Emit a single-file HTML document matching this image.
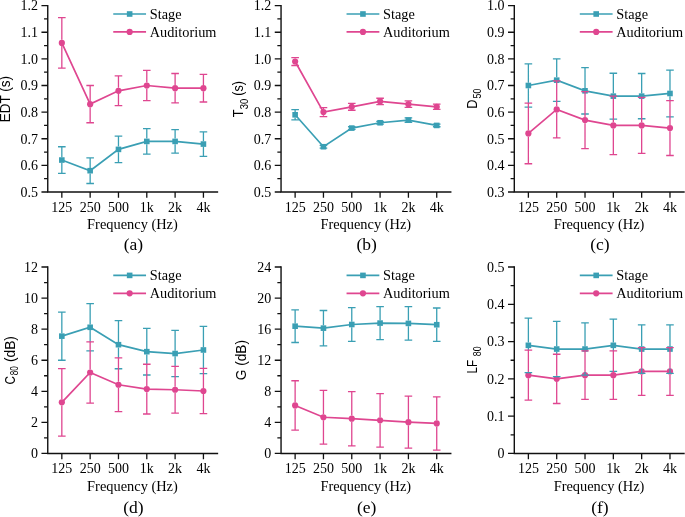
<!DOCTYPE html>
<html><head><meta charset="utf-8"><style>
html,body{margin:0;padding:0;background:#fff;width:685px;height:517px;overflow:hidden}
svg{display:block;will-change:transform}
</style></head><body>
<svg width="685" height="517" viewBox="0 0 685 517">
<g><path d="M47.75 4.9V192H218.15" fill="none" stroke="#111" stroke-width="1.4"/><path d="M41.45 192H47.75M44.05 178.69H47.75M41.45 165.37H47.75M44.05 152.06H47.75M41.45 138.74H47.75M44.05 125.43H47.75M41.45 112.11H47.75M44.05 98.8H47.75M41.45 85.49H47.75M44.05 72.17H47.75M41.45 58.86H47.75M44.05 45.54H47.75M41.45 32.23H47.75M44.05 18.91H47.75M41.45 5.6H47.75M61.83 192V197.8M90.15 192V197.8M118.47 192V197.8M146.79 192V197.8M175.11 192V197.8M203.43 192V197.8" fill="none" stroke="#111" stroke-width="1.3"/><text x="38.05" y="196.8" text-anchor="end" font-family="'Liberation Serif', serif" font-size="14">0.5</text><text x="38.05" y="170.17" text-anchor="end" font-family="'Liberation Serif', serif" font-size="14">0.6</text><text x="38.05" y="143.54" text-anchor="end" font-family="'Liberation Serif', serif" font-size="14">0.7</text><text x="38.05" y="116.91" text-anchor="end" font-family="'Liberation Serif', serif" font-size="14">0.8</text><text x="38.05" y="90.29" text-anchor="end" font-family="'Liberation Serif', serif" font-size="14">0.9</text><text x="38.05" y="63.66" text-anchor="end" font-family="'Liberation Serif', serif" font-size="14">1.0</text><text x="38.05" y="37.03" text-anchor="end" font-family="'Liberation Serif', serif" font-size="14">1.1</text><text x="38.05" y="10.4" text-anchor="end" font-family="'Liberation Serif', serif" font-size="14">1.2</text><text x="61.83" y="211.5" text-anchor="middle" font-family="'Liberation Serif', serif" font-size="14">125</text><text x="90.15" y="211.5" text-anchor="middle" font-family="'Liberation Serif', serif" font-size="14">250</text><text x="118.47" y="211.5" text-anchor="middle" font-family="'Liberation Serif', serif" font-size="14">500</text><text x="146.79" y="211.5" text-anchor="middle" font-family="'Liberation Serif', serif" font-size="14">1k</text><text x="175.11" y="211.5" text-anchor="middle" font-family="'Liberation Serif', serif" font-size="14">2k</text><text x="203.43" y="211.5" text-anchor="middle" font-family="'Liberation Serif', serif" font-size="14">4k</text><text x="132.45" y="229.1" text-anchor="middle" font-family="'Liberation Serif', serif" font-size="14.4">Frequency (Hz)</text><text x="133.35" y="249.6" text-anchor="middle" font-family="'Liberation Serif', serif" font-size="17.5">(a)</text><text transform="translate(10.1 122.3) rotate(-90) scale(0.964 1)" font-family="'Liberation Sans', sans-serif" font-size="14">EDT (s)</text><polyline points="61.83,160.05 90.15,170.7 118.47,149.39 146.79,141.41 175.11,141.41 203.43,144.07" fill="none" stroke="#3A9FB4" stroke-width="1.7"/><rect x="59.03" y="157.25" width="5.6" height="5.6" fill="#3A9FB4"/><rect x="87.35" y="167.9" width="5.6" height="5.6" fill="#3A9FB4"/><rect x="115.67" y="146.59" width="5.6" height="5.6" fill="#3A9FB4"/><rect x="143.99" y="138.61" width="5.6" height="5.6" fill="#3A9FB4"/><rect x="172.31" y="138.61" width="5.6" height="5.6" fill="#3A9FB4"/><rect x="200.63" y="141.27" width="5.6" height="5.6" fill="#3A9FB4"/><polyline points="61.83,42.88 90.15,104.13 118.47,90.81 146.79,85.49 175.11,88.15 203.43,88.15" fill="none" stroke="#DF4690" stroke-width="1.7"/><circle cx="61.83" cy="42.88" r="3.1" fill="#DF4690"/><circle cx="90.15" cy="104.13" r="3.1" fill="#DF4690"/><circle cx="118.47" cy="90.81" r="3.1" fill="#DF4690"/><circle cx="146.79" cy="85.49" r="3.1" fill="#DF4690"/><circle cx="175.11" cy="88.15" r="3.1" fill="#DF4690"/><circle cx="203.43" cy="88.15" r="3.1" fill="#DF4690"/><path d="M61.83 146.73V157.25M61.83 162.85V173.36M58.03 146.73H65.63M58.03 173.36H65.63M90.15 157.92V167.9M90.15 173.5V183.48M86.35 157.92H93.95M86.35 183.48H93.95M118.47 136.08V146.59M118.47 152.19V162.71M114.67 136.08H122.27M114.67 162.71H122.27M146.79 128.62V138.61M146.79 144.21V154.19M142.99 128.62H150.59M142.99 154.19H150.59M175.11 129.69V138.61M175.11 144.21V153.12M171.31 129.69H178.91M171.31 153.12H178.91M203.43 131.82V141.27M203.43 146.87V156.32M199.63 131.82H207.23M199.63 156.32H207.23" fill="none" stroke="#3A9FB4" stroke-width="1.3"/><path d="M61.83 17.58V39.78M61.83 45.98V68.18M58.03 17.58H65.63M58.03 68.18H65.63M90.15 85.49V101.03M90.15 107.23V122.77M86.35 85.49H93.95M86.35 122.77H93.95M118.47 75.9V87.71M118.47 93.91V105.72M114.67 75.9H122.27M114.67 105.72H122.27M146.79 70.31V82.39M146.79 88.59V100.66M142.99 70.31H150.59M142.99 100.66H150.59M175.11 73.5V85.05M175.11 91.25V102.79M171.31 73.5H178.91M171.31 102.79H178.91M203.43 74.3V85.05M203.43 91.25V102M199.63 74.3H207.23M199.63 102H207.23" fill="none" stroke="#DF4690" stroke-width="1.3"/><path d="M113.25 14H146.05" stroke="#3A9FB4" stroke-width="1.7"/><rect x="126.85" y="11.2" width="5.6" height="5.6" fill="#3A9FB4"/><path d="M113.25 31.9H146.05" stroke="#DF4690" stroke-width="1.7"/><circle cx="129.65" cy="31.9" r="3.1" fill="#DF4690"/><text x="149.75" y="18.6" font-family="'Liberation Serif', serif" font-size="14.3">Stage</text><text x="149.75" y="36.5" font-family="'Liberation Serif', serif" font-size="14.3">Auditorium</text></g>
<g><path d="M281.05 4.9V192H451.45" fill="none" stroke="#111" stroke-width="1.4"/><path d="M274.75 192H281.05M277.35 178.69H281.05M274.75 165.37H281.05M277.35 152.06H281.05M274.75 138.74H281.05M277.35 125.43H281.05M274.75 112.11H281.05M277.35 98.8H281.05M274.75 85.49H281.05M277.35 72.17H281.05M274.75 58.86H281.05M277.35 45.54H281.05M274.75 32.23H281.05M277.35 18.91H281.05M274.75 5.6H281.05M295.13 192V197.8M323.45 192V197.8M351.77 192V197.8M380.09 192V197.8M408.41 192V197.8M436.73 192V197.8" fill="none" stroke="#111" stroke-width="1.3"/><text x="271.35" y="196.8" text-anchor="end" font-family="'Liberation Serif', serif" font-size="14">0.5</text><text x="271.35" y="170.17" text-anchor="end" font-family="'Liberation Serif', serif" font-size="14">0.6</text><text x="271.35" y="143.54" text-anchor="end" font-family="'Liberation Serif', serif" font-size="14">0.7</text><text x="271.35" y="116.91" text-anchor="end" font-family="'Liberation Serif', serif" font-size="14">0.8</text><text x="271.35" y="90.29" text-anchor="end" font-family="'Liberation Serif', serif" font-size="14">0.9</text><text x="271.35" y="63.66" text-anchor="end" font-family="'Liberation Serif', serif" font-size="14">1.0</text><text x="271.35" y="37.03" text-anchor="end" font-family="'Liberation Serif', serif" font-size="14">1.1</text><text x="271.35" y="10.4" text-anchor="end" font-family="'Liberation Serif', serif" font-size="14">1.2</text><text x="295.13" y="211.5" text-anchor="middle" font-family="'Liberation Serif', serif" font-size="14">125</text><text x="323.45" y="211.5" text-anchor="middle" font-family="'Liberation Serif', serif" font-size="14">250</text><text x="351.77" y="211.5" text-anchor="middle" font-family="'Liberation Serif', serif" font-size="14">500</text><text x="380.09" y="211.5" text-anchor="middle" font-family="'Liberation Serif', serif" font-size="14">1k</text><text x="408.41" y="211.5" text-anchor="middle" font-family="'Liberation Serif', serif" font-size="14">2k</text><text x="436.73" y="211.5" text-anchor="middle" font-family="'Liberation Serif', serif" font-size="14">4k</text><text x="365.75" y="229.1" text-anchor="middle" font-family="'Liberation Serif', serif" font-size="14.4">Frequency (Hz)</text><text x="366.65" y="249.6" text-anchor="middle" font-family="'Liberation Serif', serif" font-size="17.5">(b)</text><text transform="translate(243 117.2) rotate(-90) scale(0.91 1)" font-family="'Liberation Sans', sans-serif" font-size="14">T</text><text transform="translate(247.8 109.3) rotate(-90) scale(0.946 1)" font-family="'Liberation Sans', sans-serif" font-size="10">30</text><text transform="translate(243 95.7) rotate(-90) scale(0.9 1)" font-family="'Liberation Sans', sans-serif" font-size="14">(s)</text><polyline points="295.13,114.78 323.45,146.73 351.77,128.09 380.09,122.77 408.41,120.1 436.73,125.43" fill="none" stroke="#3A9FB4" stroke-width="1.7"/><rect x="292.33" y="111.98" width="5.6" height="5.6" fill="#3A9FB4"/><rect x="320.65" y="143.93" width="5.6" height="5.6" fill="#3A9FB4"/><rect x="348.97" y="125.29" width="5.6" height="5.6" fill="#3A9FB4"/><rect x="377.29" y="119.97" width="5.6" height="5.6" fill="#3A9FB4"/><rect x="405.61" y="117.3" width="5.6" height="5.6" fill="#3A9FB4"/><rect x="433.93" y="122.63" width="5.6" height="5.6" fill="#3A9FB4"/><polyline points="295.13,61.52 323.45,112.11 351.77,106.79 380.09,101.46 408.41,104.13 436.73,106.79" fill="none" stroke="#DF4690" stroke-width="1.7"/><circle cx="295.13" cy="61.52" r="3.1" fill="#DF4690"/><circle cx="323.45" cy="112.11" r="3.1" fill="#DF4690"/><circle cx="351.77" cy="106.79" r="3.1" fill="#DF4690"/><circle cx="380.09" cy="101.46" r="3.1" fill="#DF4690"/><circle cx="408.41" cy="104.13" r="3.1" fill="#DF4690"/><circle cx="436.73" cy="106.79" r="3.1" fill="#DF4690"/><path d="M295.13 109.72V111.98M295.13 117.58V119.84M291.33 109.72H298.93M291.33 119.84H298.93M319.65 145.4H327.25M319.65 148.06H327.25M347.97 126.76H355.57M347.97 129.42H355.57M376.29 121.43H383.89M376.29 124.1H383.89M404.61 117.97H412.21M404.61 122.23H412.21M432.93 124.1H440.53M432.93 126.76H440.53" fill="none" stroke="#3A9FB4" stroke-width="1.3"/><path d="M295.13 57.53V58.42M295.13 64.62V65.51M291.33 57.53H298.93M291.33 65.51H298.93M323.45 107.59V109.01M323.45 115.21V116.64M319.65 107.59H327.25M319.65 116.64H327.25M351.77 103.33V103.69M351.77 109.89V110.25M347.97 103.33H355.57M347.97 110.25H355.57M380.09 98.27V98.36M380.09 104.56V104.66M376.29 98.27H383.89M376.29 104.66H383.89M408.41 100.93V101.03M408.41 107.23V107.32M404.61 100.93H412.21M404.61 107.32H412.21M432.93 104.13H440.53M432.93 109.45H440.53" fill="none" stroke="#DF4690" stroke-width="1.3"/><path d="M346.55 14H379.35" stroke="#3A9FB4" stroke-width="1.7"/><rect x="360.15" y="11.2" width="5.6" height="5.6" fill="#3A9FB4"/><path d="M346.55 31.9H379.35" stroke="#DF4690" stroke-width="1.7"/><circle cx="362.95" cy="31.9" r="3.1" fill="#DF4690"/><text x="383.05" y="18.6" font-family="'Liberation Serif', serif" font-size="14.3">Stage</text><text x="383.05" y="36.5" font-family="'Liberation Serif', serif" font-size="14.3">Auditorium</text></g>
<g><path d="M514.3 4.9V192H684.7" fill="none" stroke="#111" stroke-width="1.4"/><path d="M508 192H514.3M510.6 178.69H514.3M508 165.37H514.3M510.6 152.06H514.3M508 138.74H514.3M510.6 125.43H514.3M508 112.11H514.3M510.6 98.8H514.3M508 85.49H514.3M510.6 72.17H514.3M508 58.86H514.3M510.6 45.54H514.3M508 32.23H514.3M510.6 18.91H514.3M508 5.6H514.3M528.38 192V197.8M556.7 192V197.8M585.02 192V197.8M613.34 192V197.8M641.66 192V197.8M669.98 192V197.8" fill="none" stroke="#111" stroke-width="1.3"/><text x="504.6" y="196.8" text-anchor="end" font-family="'Liberation Serif', serif" font-size="14">0.3</text><text x="504.6" y="170.17" text-anchor="end" font-family="'Liberation Serif', serif" font-size="14">0.4</text><text x="504.6" y="143.54" text-anchor="end" font-family="'Liberation Serif', serif" font-size="14">0.5</text><text x="504.6" y="116.91" text-anchor="end" font-family="'Liberation Serif', serif" font-size="14">0.6</text><text x="504.6" y="90.29" text-anchor="end" font-family="'Liberation Serif', serif" font-size="14">0.7</text><text x="504.6" y="63.66" text-anchor="end" font-family="'Liberation Serif', serif" font-size="14">0.8</text><text x="504.6" y="37.03" text-anchor="end" font-family="'Liberation Serif', serif" font-size="14">0.9</text><text x="504.6" y="10.4" text-anchor="end" font-family="'Liberation Serif', serif" font-size="14">1.0</text><text x="528.38" y="211.5" text-anchor="middle" font-family="'Liberation Serif', serif" font-size="14">125</text><text x="556.7" y="211.5" text-anchor="middle" font-family="'Liberation Serif', serif" font-size="14">250</text><text x="585.02" y="211.5" text-anchor="middle" font-family="'Liberation Serif', serif" font-size="14">500</text><text x="613.34" y="211.5" text-anchor="middle" font-family="'Liberation Serif', serif" font-size="14">1k</text><text x="641.66" y="211.5" text-anchor="middle" font-family="'Liberation Serif', serif" font-size="14">2k</text><text x="669.98" y="211.5" text-anchor="middle" font-family="'Liberation Serif', serif" font-size="14">4k</text><text x="599" y="229.1" text-anchor="middle" font-family="'Liberation Serif', serif" font-size="14.4">Frequency (Hz)</text><text x="599.9" y="249.6" text-anchor="middle" font-family="'Liberation Serif', serif" font-size="17.5">(c)</text><text transform="translate(476.75 108.8) rotate(-90) scale(0.91 1)" font-family="'Liberation Sans', sans-serif" font-size="14">D</text><text transform="translate(480.9 98.5) rotate(-90) scale(0.88 1)" font-family="'Liberation Sans', sans-serif" font-size="10">50</text><polyline points="528.38,85.49 556.7,80.16 585.02,90.81 613.34,96.14 641.66,96.14 669.98,93.47" fill="none" stroke="#3A9FB4" stroke-width="1.7"/><rect x="525.58" y="82.69" width="5.6" height="5.6" fill="#3A9FB4"/><rect x="553.9" y="77.36" width="5.6" height="5.6" fill="#3A9FB4"/><rect x="582.22" y="88.01" width="5.6" height="5.6" fill="#3A9FB4"/><rect x="610.54" y="93.34" width="5.6" height="5.6" fill="#3A9FB4"/><rect x="638.86" y="93.34" width="5.6" height="5.6" fill="#3A9FB4"/><rect x="667.18" y="90.67" width="5.6" height="5.6" fill="#3A9FB4"/><polyline points="528.38,133.42 556.7,109.45 585.02,120.1 613.34,125.43 641.66,125.43 669.98,128.09" fill="none" stroke="#DF4690" stroke-width="1.7"/><circle cx="528.38" cy="133.42" r="3.1" fill="#DF4690"/><circle cx="556.7" cy="109.45" r="3.1" fill="#DF4690"/><circle cx="585.02" cy="120.1" r="3.1" fill="#DF4690"/><circle cx="613.34" cy="125.43" r="3.1" fill="#DF4690"/><circle cx="641.66" cy="125.43" r="3.1" fill="#DF4690"/><circle cx="669.98" cy="128.09" r="3.1" fill="#DF4690"/><path d="M528.38 63.92V82.69M528.38 88.29V103.06M524.58 63.92H532.18M524.58 107.05H532.18M556.7 58.86V77.36M552.9 58.86H560.5M552.9 101.46H560.5M585.02 67.64V88.01M581.22 67.64H588.82M581.22 113.98H588.82M613.34 73.24V93.34M609.54 73.24H617.14M609.54 119.04H617.14M641.66 73.5V93.34M637.86 73.5H645.46M637.86 118.77H645.46M669.98 70.04V90.67M669.98 96.27V100.66M666.18 70.04H673.78M666.18 116.91H673.78" fill="none" stroke="#3A9FB4" stroke-width="1.3"/><path d="M528.38 103.06V130.32M528.38 136.52V163.77M524.58 103.06H532.18M524.58 163.77H532.18M556.7 80.96V106.35M556.7 112.55V137.94M552.9 80.96H560.5M552.9 137.94H560.5M585.02 91.61V117M585.02 123.2V148.6M581.22 91.61H588.82M581.22 148.6H588.82M613.34 96.14V122.33M613.34 128.53V154.72M609.54 96.14H617.14M609.54 154.72H617.14M641.66 97.47V122.33M641.66 128.53V153.39M637.86 97.47H645.46M637.86 153.39H645.46M669.98 100.66V124.99M669.98 131.19V155.52M666.18 100.66H673.78M666.18 155.52H673.78" fill="none" stroke="#DF4690" stroke-width="1.3"/><path d="M579.8 14H612.6" stroke="#3A9FB4" stroke-width="1.7"/><rect x="593.4" y="11.2" width="5.6" height="5.6" fill="#3A9FB4"/><path d="M579.8 31.9H612.6" stroke="#DF4690" stroke-width="1.7"/><circle cx="596.2" cy="31.9" r="3.1" fill="#DF4690"/><text x="616.3" y="18.6" font-family="'Liberation Serif', serif" font-size="14.3">Stage</text><text x="616.3" y="36.5" font-family="'Liberation Serif', serif" font-size="14.3">Auditorium</text></g>
<g><path d="M47.75 266.3V453.45H218.15" fill="none" stroke="#111" stroke-width="1.4"/><path d="M41.45 453.45H47.75M44.05 437.91H47.75M41.45 422.38H47.75M44.05 406.84H47.75M41.45 391.3H47.75M44.05 375.76H47.75M41.45 360.23H47.75M44.05 344.69H47.75M41.45 329.15H47.75M44.05 313.61H47.75M41.45 298.07H47.75M44.05 282.54H47.75M41.45 267H47.75M61.83 453.45V459.25M90.15 453.45V459.25M118.47 453.45V459.25M146.79 453.45V459.25M175.11 453.45V459.25M203.43 453.45V459.25" fill="none" stroke="#111" stroke-width="1.3"/><text x="38.05" y="458.25" text-anchor="end" font-family="'Liberation Serif', serif" font-size="14">0</text><text x="38.05" y="427.18" text-anchor="end" font-family="'Liberation Serif', serif" font-size="14">2</text><text x="38.05" y="396.1" text-anchor="end" font-family="'Liberation Serif', serif" font-size="14">4</text><text x="38.05" y="365.03" text-anchor="end" font-family="'Liberation Serif', serif" font-size="14">6</text><text x="38.05" y="333.95" text-anchor="end" font-family="'Liberation Serif', serif" font-size="14">8</text><text x="38.05" y="302.88" text-anchor="end" font-family="'Liberation Serif', serif" font-size="14">10</text><text x="38.05" y="271.8" text-anchor="end" font-family="'Liberation Serif', serif" font-size="14">12</text><text x="61.83" y="472.95" text-anchor="middle" font-family="'Liberation Serif', serif" font-size="14">125</text><text x="90.15" y="472.95" text-anchor="middle" font-family="'Liberation Serif', serif" font-size="14">250</text><text x="118.47" y="472.95" text-anchor="middle" font-family="'Liberation Serif', serif" font-size="14">500</text><text x="146.79" y="472.95" text-anchor="middle" font-family="'Liberation Serif', serif" font-size="14">1k</text><text x="175.11" y="472.95" text-anchor="middle" font-family="'Liberation Serif', serif" font-size="14">2k</text><text x="203.43" y="472.95" text-anchor="middle" font-family="'Liberation Serif', serif" font-size="14">4k</text><text x="132.45" y="490.55" text-anchor="middle" font-family="'Liberation Serif', serif" font-size="14.4">Frequency (Hz)</text><text x="133.35" y="512.85" text-anchor="middle" font-family="'Liberation Serif', serif" font-size="17.5">(d)</text><text transform="translate(14.7 384.4) rotate(-90) scale(0.834 1)" font-family="'Liberation Sans', sans-serif" font-size="14">C</text><text transform="translate(17.8 375.3) rotate(-90) scale(0.83 1)" font-family="'Liberation Sans', sans-serif" font-size="10">80</text><text transform="translate(14.7 362) rotate(-90) scale(0.98 1)" font-family="'Liberation Sans', sans-serif" font-size="14">(dB)</text><polyline points="61.83,336.14 90.15,327.29 118.47,344.69 146.79,351.68 175.11,353.54 203.43,349.97" fill="none" stroke="#3A9FB4" stroke-width="1.7"/><rect x="59.03" y="333.34" width="5.6" height="5.6" fill="#3A9FB4"/><rect x="87.35" y="324.49" width="5.6" height="5.6" fill="#3A9FB4"/><rect x="115.67" y="341.89" width="5.6" height="5.6" fill="#3A9FB4"/><rect x="143.99" y="348.88" width="5.6" height="5.6" fill="#3A9FB4"/><rect x="172.31" y="350.74" width="5.6" height="5.6" fill="#3A9FB4"/><rect x="200.63" y="347.17" width="5.6" height="5.6" fill="#3A9FB4"/><polyline points="61.83,402.33 90.15,372.5 118.47,384.77 146.79,389.12 175.11,389.75 203.43,390.99" fill="none" stroke="#DF4690" stroke-width="1.7"/><circle cx="61.83" cy="402.33" r="3.1" fill="#DF4690"/><circle cx="90.15" cy="372.5" r="3.1" fill="#DF4690"/><circle cx="118.47" cy="384.77" r="3.1" fill="#DF4690"/><circle cx="146.79" cy="389.12" r="3.1" fill="#DF4690"/><circle cx="175.11" cy="389.75" r="3.1" fill="#DF4690"/><circle cx="203.43" cy="390.99" r="3.1" fill="#DF4690"/><path d="M61.83 312.06V333.34M61.83 338.94V360.23M58.03 312.06H65.63M58.03 360.23H65.63M90.15 303.67V324.49M90.15 330.09V341.89M86.35 303.67H93.95M86.35 350.9H93.95M118.47 320.6V341.89M118.47 347.49V357.89M114.67 320.6H122.27M114.67 368.77H122.27M146.79 328.37V348.88M146.79 354.48V364.26M142.99 328.37H150.59M142.99 374.99H150.59M175.11 330.39V350.74M175.11 356.34V366.44M171.31 330.39H178.91M171.31 376.69H178.91M203.43 326.35V347.17M203.43 352.77V368.3M199.63 326.35H207.23M199.63 373.59H207.23" fill="none" stroke="#3A9FB4" stroke-width="1.3"/><path d="M61.83 368.62V399.23M61.83 405.43V436.05M58.03 368.62H65.63M58.03 436.05H65.63M90.15 341.89V369.4M90.15 375.6V403.11M86.35 341.89H93.95M86.35 403.11H93.95M118.47 357.89V381.67M118.47 387.87V411.65M114.67 357.89H122.27M114.67 411.65H122.27M146.79 364.26V386.02M146.79 392.22V413.98M142.99 364.26H150.59M142.99 413.98H150.59M175.11 366.44V386.65M175.11 392.85V413.05M171.31 366.44H178.91M171.31 413.05H178.91M203.43 368.3V387.89M203.43 394.09V413.67M199.63 368.3H207.23M199.63 413.67H207.23" fill="none" stroke="#DF4690" stroke-width="1.3"/><path d="M113.25 275.4H146.05" stroke="#3A9FB4" stroke-width="1.7"/><rect x="126.85" y="272.6" width="5.6" height="5.6" fill="#3A9FB4"/><path d="M113.25 293.3H146.05" stroke="#DF4690" stroke-width="1.7"/><circle cx="129.65" cy="293.3" r="3.1" fill="#DF4690"/><text x="149.75" y="280" font-family="'Liberation Serif', serif" font-size="14.3">Stage</text><text x="149.75" y="297.9" font-family="'Liberation Serif', serif" font-size="14.3">Auditorium</text></g>
<g><path d="M281.05 266.3V453.45H451.45" fill="none" stroke="#111" stroke-width="1.4"/><path d="M274.75 453.45H281.05M277.35 437.91H281.05M274.75 422.38H281.05M277.35 406.84H281.05M274.75 391.3H281.05M277.35 375.76H281.05M274.75 360.23H281.05M277.35 344.69H281.05M274.75 329.15H281.05M277.35 313.61H281.05M274.75 298.07H281.05M277.35 282.54H281.05M274.75 267H281.05M295.13 453.45V459.25M323.45 453.45V459.25M351.77 453.45V459.25M380.09 453.45V459.25M408.41 453.45V459.25M436.73 453.45V459.25" fill="none" stroke="#111" stroke-width="1.3"/><text x="271.35" y="458.25" text-anchor="end" font-family="'Liberation Serif', serif" font-size="14">0</text><text x="271.35" y="427.18" text-anchor="end" font-family="'Liberation Serif', serif" font-size="14">4</text><text x="271.35" y="396.1" text-anchor="end" font-family="'Liberation Serif', serif" font-size="14">8</text><text x="271.35" y="365.03" text-anchor="end" font-family="'Liberation Serif', serif" font-size="14">12</text><text x="271.35" y="333.95" text-anchor="end" font-family="'Liberation Serif', serif" font-size="14">16</text><text x="271.35" y="302.88" text-anchor="end" font-family="'Liberation Serif', serif" font-size="14">20</text><text x="271.35" y="271.8" text-anchor="end" font-family="'Liberation Serif', serif" font-size="14">24</text><text x="295.13" y="472.95" text-anchor="middle" font-family="'Liberation Serif', serif" font-size="14">125</text><text x="323.45" y="472.95" text-anchor="middle" font-family="'Liberation Serif', serif" font-size="14">250</text><text x="351.77" y="472.95" text-anchor="middle" font-family="'Liberation Serif', serif" font-size="14">500</text><text x="380.09" y="472.95" text-anchor="middle" font-family="'Liberation Serif', serif" font-size="14">1k</text><text x="408.41" y="472.95" text-anchor="middle" font-family="'Liberation Serif', serif" font-size="14">2k</text><text x="436.73" y="472.95" text-anchor="middle" font-family="'Liberation Serif', serif" font-size="14">4k</text><text x="365.75" y="490.55" text-anchor="middle" font-family="'Liberation Serif', serif" font-size="14.4">Frequency (Hz)</text><text x="366.65" y="512.85" text-anchor="middle" font-family="'Liberation Serif', serif" font-size="17.5">(e)</text><text transform="translate(245.7 380.2) rotate(-90) scale(0.975 1)" font-family="'Liberation Sans', sans-serif" font-size="14">G (dB)</text><polyline points="295.13,326.2 323.45,328.14 351.77,324.49 380.09,323.09 408.41,323.4 436.73,324.72" fill="none" stroke="#3A9FB4" stroke-width="1.7"/><rect x="292.33" y="323.4" width="5.6" height="5.6" fill="#3A9FB4"/><rect x="320.65" y="325.34" width="5.6" height="5.6" fill="#3A9FB4"/><rect x="348.97" y="321.69" width="5.6" height="5.6" fill="#3A9FB4"/><rect x="377.29" y="320.29" width="5.6" height="5.6" fill="#3A9FB4"/><rect x="405.61" y="320.6" width="5.6" height="5.6" fill="#3A9FB4"/><rect x="433.93" y="321.92" width="5.6" height="5.6" fill="#3A9FB4"/><polyline points="295.13,405.44 323.45,417.25 351.77,418.72 380.09,420.36 408.41,422.14 436.73,423.46" fill="none" stroke="#DF4690" stroke-width="1.7"/><circle cx="295.13" cy="405.44" r="3.1" fill="#DF4690"/><circle cx="323.45" cy="417.25" r="3.1" fill="#DF4690"/><circle cx="351.77" cy="418.72" r="3.1" fill="#DF4690"/><circle cx="380.09" cy="420.36" r="3.1" fill="#DF4690"/><circle cx="408.41" cy="422.14" r="3.1" fill="#DF4690"/><circle cx="436.73" cy="423.46" r="3.1" fill="#DF4690"/><path d="M295.13 309.88V323.4M295.13 329V342.51M291.33 309.88H298.93M291.33 342.51H298.93M323.45 310.5V325.34M323.45 330.94V345.78M319.65 310.5H327.25M319.65 345.78H327.25M351.77 307.55V321.69M351.77 327.29V341.42M347.97 307.55H355.57M347.97 341.42H355.57M380.09 306.54V320.29M380.09 325.89V339.64M376.29 306.54H383.89M376.29 339.64H383.89M408.41 306.7V320.6M408.41 326.2V340.1M404.61 306.7H412.21M404.61 340.1H412.21M436.73 308.02V321.92M436.73 327.52V341.42M432.93 308.02H440.53M432.93 341.42H440.53" fill="none" stroke="#3A9FB4" stroke-width="1.3"/><path d="M295.13 380.73V402.34M295.13 408.54V430.14M291.33 380.73H298.93M291.33 430.14H298.93M323.45 390.45V414.15M323.45 420.35V444.05M319.65 390.45H327.25M319.65 444.05H327.25M351.77 391.53V415.62M351.77 421.82V445.91M347.97 391.53H355.57M347.97 445.91H355.57M380.09 393.63V417.26M380.09 423.46V447.08M376.29 393.63H383.89M376.29 447.08H383.89M408.41 396.12V419.04M408.41 425.24V448.17M404.61 396.12H412.21M404.61 448.17H412.21M436.73 396.89V420.36M436.73 426.56V450.03M432.93 396.89H440.53M432.93 450.03H440.53" fill="none" stroke="#DF4690" stroke-width="1.3"/><path d="M346.55 275.4H379.35" stroke="#3A9FB4" stroke-width="1.7"/><rect x="360.15" y="272.6" width="5.6" height="5.6" fill="#3A9FB4"/><path d="M346.55 293.3H379.35" stroke="#DF4690" stroke-width="1.7"/><circle cx="362.95" cy="293.3" r="3.1" fill="#DF4690"/><text x="383.05" y="280" font-family="'Liberation Serif', serif" font-size="14.3">Stage</text><text x="383.05" y="297.9" font-family="'Liberation Serif', serif" font-size="14.3">Auditorium</text></g>
<g><path d="M514.3 266.3V453.45H684.7" fill="none" stroke="#111" stroke-width="1.4"/><path d="M508 453.45H514.3M510.6 434.81H514.3M508 416.16H514.3M510.6 397.51H514.3M508 378.87H514.3M510.6 360.23H514.3M508 341.58H514.3M510.6 322.93H514.3M508 304.29H514.3M510.6 285.64H514.3M508 267H514.3M528.38 453.45V459.25M556.7 453.45V459.25M585.02 453.45V459.25M613.34 453.45V459.25M641.66 453.45V459.25M669.98 453.45V459.25" fill="none" stroke="#111" stroke-width="1.3"/><text x="504.6" y="458.25" text-anchor="end" font-family="'Liberation Serif', serif" font-size="14">0</text><text x="504.6" y="420.96" text-anchor="end" font-family="'Liberation Serif', serif" font-size="14">0.1</text><text x="504.6" y="383.67" text-anchor="end" font-family="'Liberation Serif', serif" font-size="14">0.2</text><text x="504.6" y="346.38" text-anchor="end" font-family="'Liberation Serif', serif" font-size="14">0.3</text><text x="504.6" y="309.09" text-anchor="end" font-family="'Liberation Serif', serif" font-size="14">0.4</text><text x="504.6" y="271.8" text-anchor="end" font-family="'Liberation Serif', serif" font-size="14">0.5</text><text x="528.38" y="472.95" text-anchor="middle" font-family="'Liberation Serif', serif" font-size="14">125</text><text x="556.7" y="472.95" text-anchor="middle" font-family="'Liberation Serif', serif" font-size="14">250</text><text x="585.02" y="472.95" text-anchor="middle" font-family="'Liberation Serif', serif" font-size="14">500</text><text x="613.34" y="472.95" text-anchor="middle" font-family="'Liberation Serif', serif" font-size="14">1k</text><text x="641.66" y="472.95" text-anchor="middle" font-family="'Liberation Serif', serif" font-size="14">2k</text><text x="669.98" y="472.95" text-anchor="middle" font-family="'Liberation Serif', serif" font-size="14">4k</text><text x="599" y="490.55" text-anchor="middle" font-family="'Liberation Serif', serif" font-size="14.4">Frequency (Hz)</text><text x="599.9" y="512.85" text-anchor="middle" font-family="'Liberation Serif', serif" font-size="17.5">(f)</text><text transform="translate(476.9 373.4) rotate(-90) scale(0.83 1)" font-family="'Liberation Sans', sans-serif" font-size="14">LF</text><text transform="translate(481.1 356.2) rotate(-90) scale(0.88 1)" font-family="'Liberation Sans', sans-serif" font-size="10">80</text><polyline points="528.38,345.31 556.7,349.04 585.02,349.04 613.34,345.31 641.66,349.04 669.98,349.04" fill="none" stroke="#3A9FB4" stroke-width="1.7"/><rect x="525.58" y="342.51" width="5.6" height="5.6" fill="#3A9FB4"/><rect x="553.9" y="346.24" width="5.6" height="5.6" fill="#3A9FB4"/><rect x="582.22" y="346.24" width="5.6" height="5.6" fill="#3A9FB4"/><rect x="610.54" y="342.51" width="5.6" height="5.6" fill="#3A9FB4"/><rect x="638.86" y="346.24" width="5.6" height="5.6" fill="#3A9FB4"/><rect x="667.18" y="346.24" width="5.6" height="5.6" fill="#3A9FB4"/><polyline points="528.38,375.14 556.7,378.87 585.02,375.14 613.34,375.14 641.66,371.41 669.98,371.41" fill="none" stroke="#DF4690" stroke-width="1.7"/><circle cx="528.38" cy="375.14" r="3.1" fill="#DF4690"/><circle cx="556.7" cy="378.87" r="3.1" fill="#DF4690"/><circle cx="585.02" cy="375.14" r="3.1" fill="#DF4690"/><circle cx="613.34" cy="375.14" r="3.1" fill="#DF4690"/><circle cx="641.66" cy="371.41" r="3.1" fill="#DF4690"/><circle cx="669.98" cy="371.41" r="3.1" fill="#DF4690"/><path d="M528.38 318.09V342.51M528.38 348.11V350.16M528.38 372.04V372.53M524.58 318.09H532.18M524.58 372.53H532.18M556.7 321.44V346.24M556.7 351.84V354.26M556.7 375.77V376.63M552.9 321.44H560.5M552.9 376.63H560.5M585.02 322.93V346.24M585.02 372.04V375.14M581.22 322.93H588.82M581.22 375.14H588.82M613.34 319.21V342.51M613.34 348.11V350.9M609.54 319.21H617.14M609.54 371.41H617.14M641.66 324.8V346.24M641.66 368.31V373.28M637.86 324.8H645.46M637.86 373.28H645.46M669.98 324.8V346.24M669.98 368.31V373.28M666.18 324.8H673.78M666.18 373.28H673.78" fill="none" stroke="#3A9FB4" stroke-width="1.3"/><path d="M528.38 350.16V372.04M528.38 378.24V400.13M524.58 350.16H532.18M524.58 400.13H532.18M556.7 354.26V375.77M556.7 381.97V403.48M552.9 354.26H560.5M552.9 403.48H560.5M585.02 350.9V372.04M585.02 378.24V399.38M581.22 350.9H588.82M581.22 399.38H588.82M613.34 350.9V372.04M613.34 378.24V399.38M609.54 350.9H617.14M609.54 399.38H617.14M641.66 347.55V368.31M641.66 374.51V395.28M637.86 347.55H645.46M637.86 395.28H645.46M669.98 347.55V368.31M669.98 374.51V395.28M666.18 347.55H673.78M666.18 395.28H673.78" fill="none" stroke="#DF4690" stroke-width="1.3"/><path d="M579.8 275.4H612.6" stroke="#3A9FB4" stroke-width="1.7"/><rect x="593.4" y="272.6" width="5.6" height="5.6" fill="#3A9FB4"/><path d="M579.8 293.3H612.6" stroke="#DF4690" stroke-width="1.7"/><circle cx="596.2" cy="293.3" r="3.1" fill="#DF4690"/><text x="616.3" y="280" font-family="'Liberation Serif', serif" font-size="14.3">Stage</text><text x="616.3" y="297.9" font-family="'Liberation Serif', serif" font-size="14.3">Auditorium</text></g>
</svg>
</body></html>
